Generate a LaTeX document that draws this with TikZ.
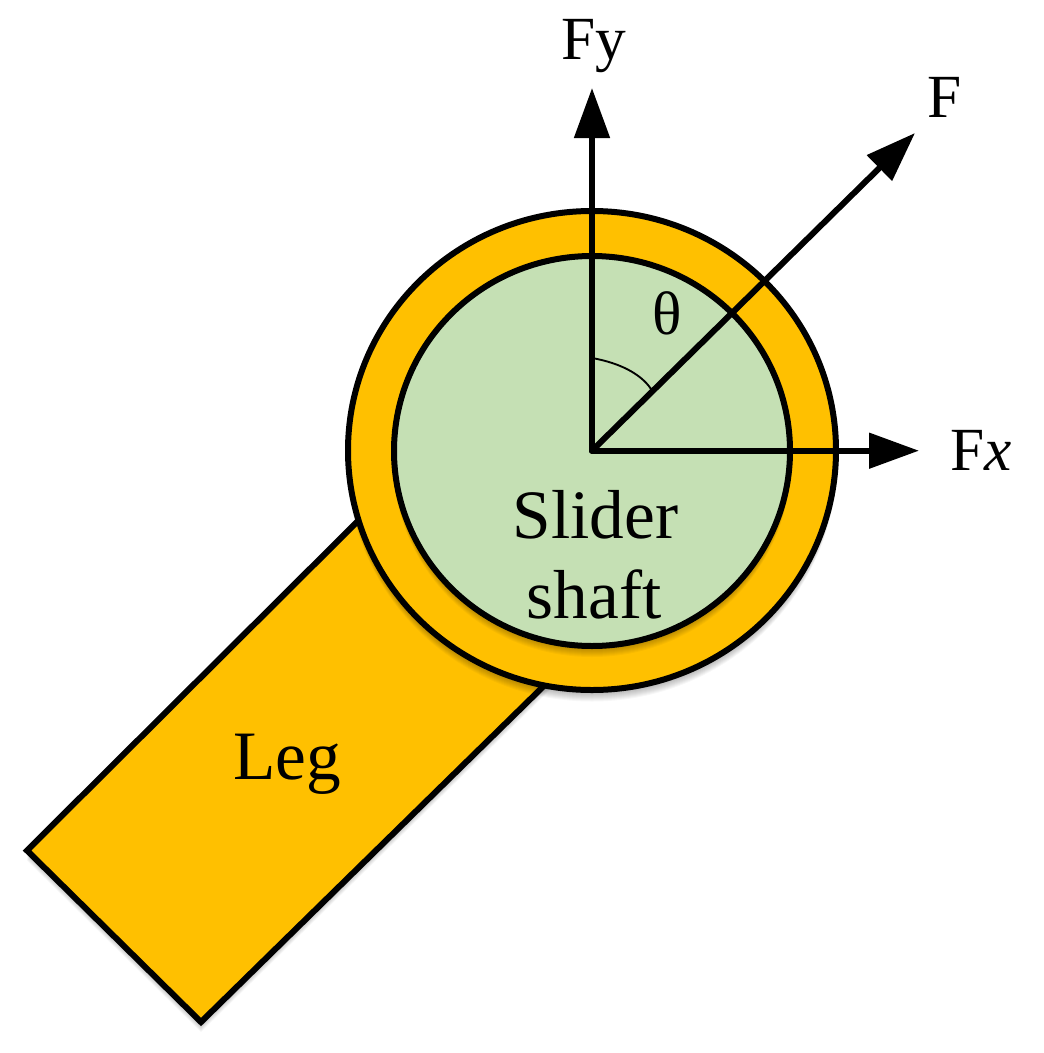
\documentclass[tikz,border=0pt]{standalone}
\usepackage{fontspec}
\setmainfont{Liberation Serif}
\usetikzlibrary{arrows.meta}
\tikzset{
 px/.style={x=0.75pt,y=-0.75pt},
 outl/.style={draw=black,line width=4.5pt,line join=miter},
 axis/.style={draw=black,line width=4.5pt,line cap=round,-{Triangle[length=37.5pt,width=26pt]}},
 lab/.style={font=\fontsize{46}{50}\selectfont,text=black,inner sep=0pt,anchor=base},
 big/.style={font=\fontsize{52}{60}\selectfont},
 shad/.style={fill=black,fill opacity=0.03},
}
\definecolor{legc}{RGB}{255,192,0}
\definecolor{shaftc}{RGB}{197,224,180}
\begin{document}
\begin{tikzpicture}[px]
\useasboundingbox (0,0) rectangle (1044,1053);
\fill[white] (0,0) rectangle (1044,1053);
\coordinate (o) at (592,450.7);
\coordinate (fy) at (592,88);
\coordinate (fx) at (919,450.7);
\coordinate (f) at (915,133);
\coordinate (a1) at (592,358);
\coordinate (a2) at (651,389);
\foreach \d in {1,...,10}{\path[shad] (372,507+\d) -- (27,850.5+\d) -- (201,1022+\d) -- (557,673+\d) -- cycle;}
\path[fill=legc,outl] (372,507) -- (27,850.5) -- (201,1022) -- (557,673) -- cycle;
\foreach \d in {1,...,10}{\path[shad] (592,450.5+\d) ellipse [x radius=245,y radius=241];}
\path[fill=legc,outl] (592,450.5) ellipse [x radius=244,y radius=239.5];
\foreach \d in {1,...,10}{\path[shad] (592,451+\d) ellipse [x radius=199,y radius=196];}
\path[fill=shaftc,outl] (592,451) ellipse [x radius=198,y radius=195];
\draw[line width=1.4pt] (a1) .. controls (620,363) and (641,374) .. (a2);
\draw[axis] (o) -- (fy);
\draw[axis] (o) -- (fx);
\draw[axis] (o) -- (f);
\node[lab] (lfy) at (593.5,59) {Fy};
\node[lab] (lf) at (945,117) {F};
\node[lab] (lfx) at (981.5,470) {F\textit{x}};
\node[lab] (lth) at (667,334) {θ};
\node[lab,big] (ls1) at (595.5,538) {Slider};
\node[lab,big] (ls2) at (594,618) {shaft};
\node[lab,big] (ll) at (287,779) {Leg};
\end{tikzpicture}
\end{document}
